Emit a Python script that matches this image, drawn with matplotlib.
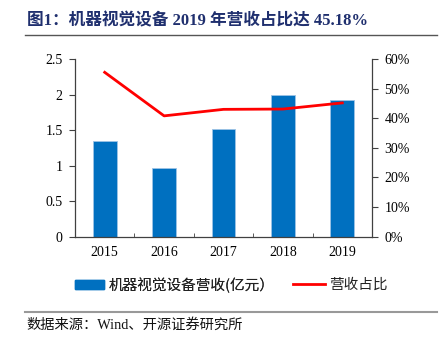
import matplotlib
matplotlib.use("Agg")
import matplotlib.pyplot as plt
from matplotlib.lines import Line2D
from matplotlib.patches import Patch
import numpy as np

years = ["2015", "2016", "2017", "2018", "2019"]
revenue = [1.34, 0.97, 1.51, 1.99, 1.92]          # 亿元
share = [55.5, 40.8, 43.0, 43.1, 45.18]          # %

title = "图1：机器视觉设备 2019 年营收占比达 45.18%"
bar_label = "机器视觉设备营收(亿元）"
line_label = "营收占比"
source = "数据来源：Wind、开源证券研究所"
left_ticks = [0, 0.5, 1, 1.5, 2, 2.5]
left_ticklabels = ["0", "0.5", "1", "1.5", "2", "2.5"]
right_ticks = [0, 10, 20, 30, 40, 50, 60]
right_ticklabels = ["0%", "10%", "20%", "30%", "40%", "50%", "60%"]

cjk = ["Noto Sans CJK SC", "DejaVu Sans"]
serif = ["Liberation Serif", "Noto Sans CJK SC"]

fig = plt.figure(figsize=(4.41, 3.46), dpi=100)
ax = fig.add_axes([75/441, 1-236.7/346, 297/441, 177.7/346])
ax2 = ax.twinx()

x = np.arange(len(years))
blue = "#0070C0"
red = "#FF0000"
spine_c = "#404040"

ax.bar(x, revenue, width=0.4, color=blue, edgecolor="#9DC3E6", linewidth=0.6, zorder=2)
ax2.plot(x, share, color=red, linewidth=2.0, zorder=3)

ax.set_xlim(-0.5, len(years) - 0.5)
ax.set_ylim(0, 2.5)
ax2.set_ylim(0, 60)

ax.set_yticks(left_ticks)
ax.set_yticklabels(left_ticklabels, fontfamily=serif, fontsize=10)
ax2.set_yticks(right_ticks)
ax2.set_yticklabels(right_ticklabels, fontfamily=serif, fontsize=10)

ax.set_xticks(x)
ax.set_xticklabels(years, fontfamily=serif, fontsize=10)
ax.tick_params(axis="x", length=0, pad=7)
ax.set_xticks(np.arange(len(years) + 1) - 0.5, minor=True)
ax.tick_params(axis="x", which="minor", direction="in", length=3, color=spine_c)
ax.tick_params(axis="y", direction="out", length=4, color=spine_c, pad=5)
ax2.tick_params(axis="y", direction="out", length=4, color=spine_c, pad=5)

for a in (ax, ax2):
    a.spines["top"].set_visible(False)
    for s in ("left", "right", "bottom"):
        a.spines[s].set_color(spine_c)
        a.spines[s].set_linewidth(0.9)
ax.spines["right"].set_visible(False)
ax2.spines["left"].set_visible(False)
ax2.spines["bottom"].set_visible(False)

# Title
fig.text(27/441, 1-21/346, title, fontfamily=serif, fontsize=12, fontweight="bold",
         color="#1F2F6E", va="center", ha="left")
fig.add_artist(Line2D([25/441, 437/441], [1-35/346, 1-35/346], color="#555555", linewidth=1.0))

# Legend (two parts placed separately)
leg_y = 1 - 285/346
leg1 = fig.legend([Patch(facecolor=blue, edgecolor=blue)], [bar_label], loc="center left",
                  bbox_to_anchor=(75/441, leg_y), frameon=False, borderpad=0, borderaxespad=0,
                  prop={"family": cjk, "size": 10.5}, handlelength=2.0, handleheight=0.5,
                  handletextpad=0.3, labelcolor="#222222")
leg2 = fig.legend([Line2D([0], [0], color=red, linewidth=2)], [line_label], loc="center left",
                  bbox_to_anchor=(293/441, leg_y), frameon=False, borderpad=0, borderaxespad=0,
                  prop={"family": cjk, "size": 10.5}, handlelength=2.2, handletextpad=0.3,
                  labelcolor="#222222")
fig.add_artist(leg1)

# Source
fig.add_artist(Line2D([25/441, 437/441], [1-312/346, 1-312/346], color="#999999", linewidth=1.5))
fig.text(26/441, 1-325/346, source, fontfamily=serif, fontsize=10.3, color="#111111",
         va="center", ha="left")

fig.savefig("out.png", dpi=100)
